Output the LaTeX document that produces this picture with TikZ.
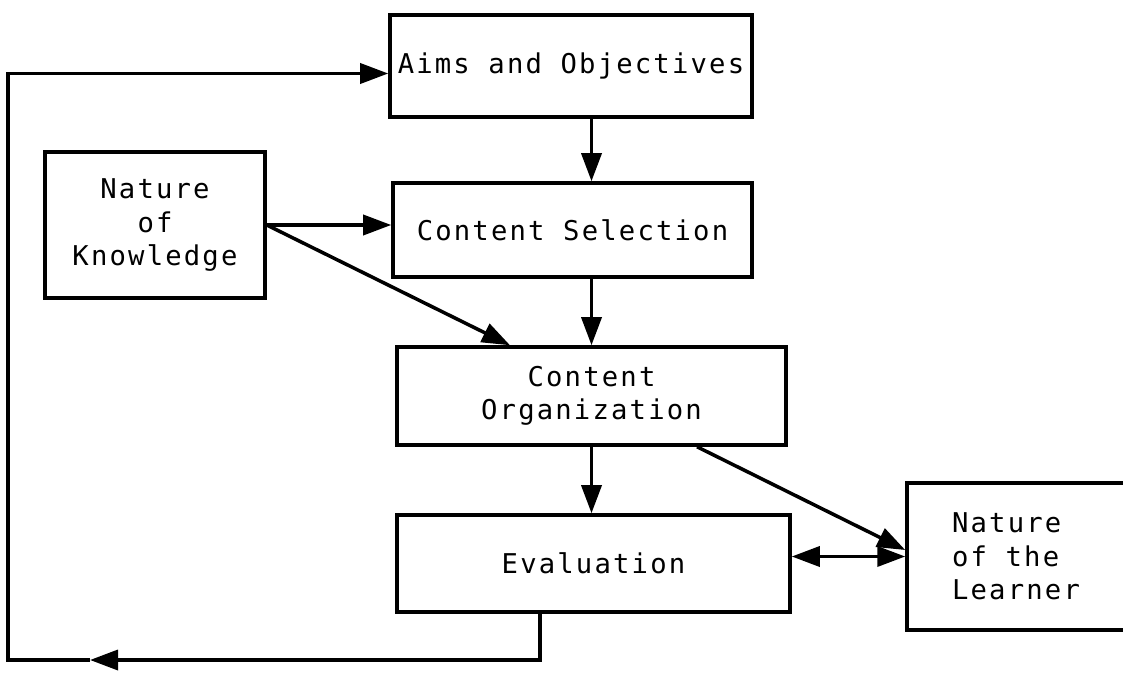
\documentclass[tikz,border=0pt]{standalone}
\usepackage{fontspec}
\newfontfamily\boxfont{DejaVu Sans Mono}[LetterSpace=8]
\usetikzlibrary{arrows.meta,calc}
\tikzset{
  >={Triangle[length=5.6mm,width=4mm]},
  stage/.style={draw,line width=2pt,minimum width=#1,inner sep=2pt,align=center,
    font=\boxfont\fontsize{15.5}{19}\selectfont},
  stage/.default=72mm,
  flow/.style={->,line width=2pt},
}

\begin{document}
\begin{tikzpicture}
  \useasboundingbox (0,0) rectangle (22.46,13.44);
  % main column
  \node[stage=72.4mm,minimum height=20.4mm] (aims) at (11.42,12.12) {Aims and Objectives};
  \node[stage=71.8mm,minimum height=18.8mm] (sel) at (11.45,8.84) {Content Selection};
  \node[stage=77.8mm,minimum height=19.6mm] (org) at (11.83,5.52) {Content\\Organization};
  \node[stage=78.6mm,minimum height=19.4mm] (eval) at (11.87,2.17) {Evaluation};
  % side inputs
  \node[stage=44mm,minimum height=29.2mm] (know) at (3.1,8.94) {Nature\\of\\Knowledge};
  \node[stage=43.6mm,minimum height=29.4mm,align=left] (learn) at (20.32,2.31) {Nature\\of the\\Learner};
  \foreach \a/\b in {aims/sel,sel/org,org/eval}
    \draw[flow] (\a.south -| org) -- (\b.north -| org);
  \draw[flow] (know.east) -- (know.east -| sel.west);
  \draw[flow] (know.east) -- ([xshift=-1.63cm]org.north);
  \draw[flow] ([xshift=2.11cm]org.south) -- ([yshift=0.13cm]learn.west);
  \draw[flow,<->] (learn.west -| eval.east) -- (learn.west);
  % feedback loop
  \coordinate (turn) at (1.8,0.24);
  \coordinate (corner) at (0.16,0.24);
  \draw[flow] ([xshift=-1.07cm]eval.south) |- (turn);
  \draw[flow] (turn) -- (corner) |- ([yshift=-0.15cm]aims.west);
\end{tikzpicture}
\end{document}
